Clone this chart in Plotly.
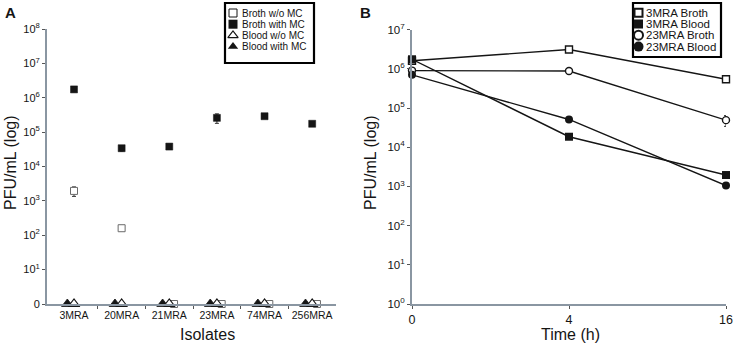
import plotly.graph_objects as go

# ---------------- data ----------------
isolates = ["3MRA", "20MRA", "21MRA", "23MRA", "74MRA", "256MRA"]
broth_wo_mc = [1.95e3, 1.6e2, 0, 0, 0, 0]
broth_wo_mc_err = [6e2, 2e1, 0, 0, 0, 0]
broth_with_mc = [1.75e6, 3.4e4, 3.8e4, 2.6e5, 2.9e5, 1.75e5]
broth_with_mc_err = [2e5, 6e3, 3e3, 8e4, 2e4, 1e4]
blood_wo_mc = [0, 0, 0, 0, 0, 0]
blood_with_mc = [0, 0, 0, 0, 0, 0]

ytick_a_vals = [1, 1e1, 1e2, 1e3, 1e4, 1e5, 1e6, 1e7, 1e8]
ytick_a_text = ["0", "10<sup>1</sup>", "10<sup>2</sup>", "10<sup>3</sup>", "10<sup>4</sup>",
                "10<sup>5</sup>", "10<sup>6</sup>", "10<sup>7</sup>", "10<sup>8</sup>"]

times = [0, 4, 16]
mra3_broth = [1.6e6, 3.1e6, 5.4e5]
mra3_blood = [1.75e6, 1.85e4, 1.95e3]
mra23_broth = [9.0e5, 8.8e5, 4.9e4]
mra23_broth_err = [0, 0, 1.5e4]
mra23_blood = [7.0e5, 5.1e4, 1.05e3]

ytick_b_vals = [1, 1e1, 1e2, 1e3, 1e4, 1e5, 1e6, 1e7]
ytick_b_text = ["10<sup>0</sup>", "10<sup>1</sup>", "10<sup>2</sup>", "10<sup>3</sup>",
                "10<sup>4</sup>", "10<sup>5</sup>", "10<sup>6</sup>", "10<sup>7</sup>"]

legend_a_labels = ["Broth w/o MC", "Broth with MC", "Blood w/o MC", "Blood with MC"]
legend_b_labels = ["3MRA Broth", "3MRA Blood", "23MRA Broth", "23MRA Blood"]

# ---------------- helpers ----------------
W, H = 737, 344
FONT = "Liberation Sans, Arial, sans-serif"
AXC = "#8a96a2"
BLK = "#151515"


def px(x):
    return x / W


def py(y):
    return 1 - y / H


def zero_to_axis(vals):
    # zero counts are drawn on the "0" baseline (10^0) of the log axis
    return [v if v > 0 else 1 for v in vals]


idx = list(range(len(isolates)))

fig = go.Figure()

# ---------------- Panel A ----------------
fig.add_trace(go.Scatter(
    x=[i + (0.1 if v == 0 else 0) for i, v in zip(idx, broth_wo_mc)],
    y=zero_to_axis(broth_wo_mc), mode="markers",
    marker=dict(symbol="square", size=7, color="white", line=dict(color="#6a6a6a", width=1)),
    error_y=dict(type="data", array=broth_wo_mc_err, color="#333", thickness=1, width=2),
    xaxis="x", yaxis="y", cliponaxis=False, name=legend_a_labels[0]))
fig.add_trace(go.Scatter(
    x=idx, y=zero_to_axis(broth_with_mc), mode="markers",
    marker=dict(symbol="square", size=7, color=BLK, line=dict(color=BLK, width=0.5)),
    error_y=dict(type="data", array=broth_with_mc_err, color="#333", thickness=1, width=2),
    xaxis="x", yaxis="y", cliponaxis=False, name=legend_a_labels[1]))
fig.add_trace(go.Scatter(
    x=[i - 0.14 for i in idx], y=zero_to_axis(blood_with_mc), mode="markers",
    marker=dict(symbol="triangle-up", size=10, color=BLK, line=dict(color=BLK, width=0.8)),
    xaxis="x", yaxis="y", cliponaxis=False, name=legend_a_labels[3]))
fig.add_trace(go.Scatter(
    x=idx, y=zero_to_axis(blood_wo_mc), mode="markers",
    marker=dict(symbol="triangle-up", size=10, color="white", line=dict(color=BLK, width=1.2)),
    xaxis="x", yaxis="y", cliponaxis=False, name=legend_a_labels[2]))

# ---------------- Panel B ----------------
tcat = [str(t) for t in times]
line_b = dict(color=BLK, width=1.4)
fig.add_trace(go.Scatter(
    x=tcat, y=mra3_broth, mode="lines+markers", line=line_b,
    marker=dict(symbol="square", size=7, color="white", line=dict(color=BLK, width=1.4)),
    xaxis="x2", yaxis="y2", cliponaxis=False, name=legend_b_labels[0]))
fig.add_trace(go.Scatter(
    x=tcat, y=mra3_blood, mode="lines+markers", line=line_b,
    marker=dict(symbol="square", size=8, color=BLK),
    xaxis="x2", yaxis="y2", cliponaxis=False, name=legend_b_labels[1]))
fig.add_trace(go.Scatter(
    x=tcat, y=mra23_broth, mode="lines+markers", line=line_b,
    marker=dict(symbol="circle", size=7, color="white", line=dict(color=BLK, width=1.4)),
    error_y=dict(type="data", array=mra23_broth_err, color="#333", thickness=1, width=2),
    xaxis="x2", yaxis="y2", cliponaxis=False, name=legend_b_labels[2]))
fig.add_trace(go.Scatter(
    x=tcat, y=mra23_blood, mode="lines+markers", line=line_b,
    marker=dict(symbol="circle", size=8, color=BLK),
    xaxis="x2", yaxis="y2", cliponaxis=False, name=legend_b_labels[3]))

# ---------------- custom legends (overlay axes in pixel units) ----------------
leg_a_markers = [
    dict(symbol="square", size=8, color="white", line=dict(color=BLK, width=1)),
    dict(symbol="square", size=9, color=BLK),
    dict(symbol="triangle-up", size=9, color="white", line=dict(color=BLK, width=1.2)),
    dict(symbol="triangle-up", size=9, color=BLK),
]
leg_b_markers = [
    dict(symbol="square", size=8, color="white", line=dict(color=BLK, width=2)),
    dict(symbol="square", size=9, color=BLK),
    dict(symbol="circle", size=9, color="white", line=dict(color=BLK, width=2)),
    dict(symbol="circle", size=10, color=BLK),
]
rows_a = [10, 21.2, 32.4, 43.6]
rows_b = [9.7, 21.0, 32.2, 43.6]
for lab, mk, ry in zip(legend_a_labels, leg_a_markers, rows_a):
    fig.add_trace(go.Scatter(x=[8], y=[ry], mode="markers", marker=mk,
                             xaxis="x3", yaxis="y3", cliponaxis=False, name=lab))
for lab, mk, ry in zip(legend_b_labels, leg_b_markers, rows_b):
    fig.add_trace(go.Scatter(x=[5.5], y=[ry], mode="markers", marker=mk,
                             xaxis="x4", yaxis="y4", cliponaxis=False, name=lab))

annotations = []
for lab, ry in zip(legend_a_labels, rows_a):
    annotations.append(dict(x=15, y=ry, xref="x3", yref="y3", text=lab, showarrow=False,
                            xanchor="left", yanchor="middle",
                            font=dict(family=FONT, size=10, color=BLK)))
for lab, ry in zip(legend_b_labels, rows_b):
    annotations.append(dict(x=10.5, y=ry, xref="x4", yref="y4", text=lab, showarrow=False,
                            xanchor="left", yanchor="middle",
                            font=dict(family=FONT, size=11.5, color=BLK)))

# titles and panel letters
def ann(text, x, y, size, angle=0, bold=False):
    return dict(text=f"<b>{text}</b>" if bold else text, x=px(x), y=py(y),
                xref="paper", yref="paper", showarrow=False, textangle=angle,
                xanchor="center", yanchor="middle",
                font=dict(family=FONT, size=size, color=BLK))

annotations += [
    ann("A", 10, 13, 15, bold=True),
    ann("B", 365, 13, 15, bold=True),
    ann("PFU/mL (log)", 11, 163, 16, angle=-90),
    ann("PFU/mL (log)", 371, 163, 16, angle=-90),
    ann("Isolates", 207, 334, 16),
    ann("Time (h)", 570, 334, 16),
]

shapes = [
    dict(type="rect", xref="paper", yref="paper", x0=px(225), x1=px(314), y0=py(63), y1=py(3),
         line=dict(color="black", width=2.2), fillcolor="white", layer="below"),
    dict(type="rect", xref="paper", yref="paper", x0=px(633), x1=px(721), y0=py(57), y1=py(3),
         line=dict(color="black", width=2.2), fillcolor="white", layer="below"),
]

tickfont_a = dict(family=FONT, size=11, color=BLK)

fig.update_layout(
    template="none",
    width=W, height=H, margin=dict(l=0, r=0, t=0, b=0, pad=0), autosize=False,
    font=dict(family=FONT, color=BLK),
    paper_bgcolor="white", plot_bgcolor="rgba(0,0,0,0)", showlegend=False,
    annotations=annotations, shapes=shapes,
    xaxis=dict(domain=[px(47), px(336)], range=[-0.567, 5.5], anchor="y", automargin=False,
               tickmode="array", tickvals=idx, ticktext=isolates, ticks="",
               tickfont=dict(family=FONT, size=10.5, color=BLK),
               showline=True, linecolor=AXC, linewidth=2, showgrid=False, zeroline=False,
               minor=dict(tickmode="array", tickvals=[i + 0.5 for i in idx[:-1]],
                          ticks="outside", ticklen=3, tickwidth=1, tickcolor="#555",
                          showgrid=False)),
    yaxis=dict(domain=[py(304), py(29)], type="log", range=[0, 8], anchor="x", automargin=False,
               tickmode="array", tickvals=ytick_a_vals, ticktext=ytick_a_text,
               ticks="outside", ticklen=3, tickwidth=1, tickcolor="#555",
               tickfont=tickfont_a, showline=True, linecolor=AXC, linewidth=2,
               showgrid=False, zeroline=False),
    xaxis2=dict(domain=[px(412), px(726)], type="category", range=[0, 2], anchor="y2",
                automargin=False, categoryorder="array", categoryarray=tcat,
                ticks="outside", ticklen=3, tickwidth=1, tickcolor="#555",
                tickfont=dict(family=FONT, size=12.5, color=BLK),
                showline=True, linecolor=AXC, linewidth=2, showgrid=False, zeroline=False),
    yaxis2=dict(domain=[py(304), py(29.6)], type="log", range=[0, 7], anchor="x2",
                automargin=False, tickmode="array", tickvals=ytick_b_vals, ticktext=ytick_b_text,
                ticks="outside", ticklen=3, tickwidth=1, tickcolor="#555",
                tickfont=dict(family=FONT, size=11.5, color=BLK),
                showline=True, linecolor=AXC, linewidth=2, showgrid=False, zeroline=False),
    xaxis3=dict(domain=[px(225), px(314)], range=[0, 89], visible=False, anchor="y3",
                fixedrange=True, automargin=False),
    yaxis3=dict(domain=[py(63), py(3)], range=[60, 0], visible=False, anchor="x3",
                fixedrange=True, automargin=False),
    xaxis4=dict(domain=[px(633), px(721)], range=[0, 88], visible=False, anchor="y4",
                fixedrange=True, automargin=False),
    yaxis4=dict(domain=[py(57), py(3)], range=[54, 0], visible=False, anchor="x4",
                fixedrange=True, automargin=False),
)

fig.write_html(
    "out.html",
    config={"displayModeBar": False},
    post_script=("document.body.style.margin='0';document.body.style.padding='0';"
                 "document.documentElement.style.overflow='hidden';"),
)
